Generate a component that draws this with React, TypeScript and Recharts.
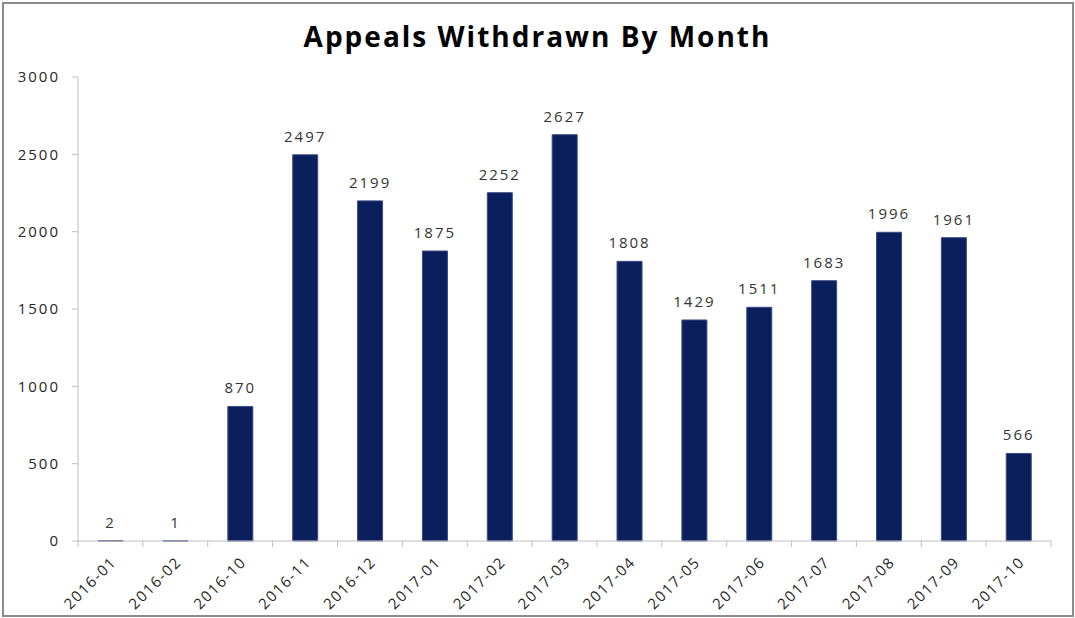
import React from "react";
import { BarChart, Bar, XAxis, YAxis, LabelList } from "recharts";

const months = ["2016-01","2016-02","2016-10","2016-11","2016-12","2017-01","2017-02","2017-03","2017-04","2017-05","2017-06","2017-07","2017-08","2017-09","2017-10"];
const withdrawn = [2,1,870,2497,2199,1875,2252,2627,1808,1429,1511,1683,1996,1961,566];
const yTicks = [0,500,1000,1500,2000,2500,3000];

const data = months.map((m, i) => ({ month: m, value: withdrawn[i] }));

const FONT = "'Open Sans', 'Liberation Sans', sans-serif";

const XTick = (props: any) => {
  const { x, y, payload, index, visibleTicksCount } = props;
  const off = payload.offset || 0;
  const isLast = index === visibleTicksCount - 1;
  const tx = x + 7;
  const ty = y + 14;
  return (
    <g>
      <line x1={x - off} x2={x - off} y1={y - 8} y2={y - 2} stroke="#bfbfbf" />
      {isLast && <line x1={x + off} x2={x + off} y1={y - 8} y2={y - 2} stroke="#bfbfbf" />}
      <text
        x={tx}
        y={ty}
        textAnchor="end"
        transform={`rotate(-45 ${tx} ${ty})`}
        fontSize={15}
        letterSpacing={1.5}
        fill="#262626"
        fontFamily={FONT}
      >
        {payload.value}
      </text>
    </g>
  );
};

export default function App() {
  return (
    <div style={{ position: "absolute", left: 0, top: 0, width: 1075, height: 618, background: "#fff" }}>
      <BarChart
        width={1075}
        height={618}
        data={data}
        margin={{ top: 77, right: 24, bottom: 7, left: 18 }}
        barCategoryGap="31%"
      >
        <XAxis
          dataKey="month"
          tick={<XTick />}
          tickLine={false}
          axisLine={{ stroke: "#bfbfbf" }}
          height={70}
          interval={0}
        />
        <YAxis
          domain={[0, 3000]}
          ticks={yTicks}
          width={60}
          axisLine={{ stroke: "#bfbfbf" }}
          tickLine={{ stroke: "#bfbfbf" }}
          tickSize={6}
          tickMargin={12}
          tick={{ fontSize: 15, fill: "#262626", fontFamily: FONT, letterSpacing: 2 }}
        />
        <Bar dataKey="value" fill="#0a1f5c" stroke="#3a4c85" strokeWidth={1} isAnimationActive={false}>
          <LabelList
            dataKey="value"
            position="top"
            offset={13}
            style={{ fontSize: 15, fill: "#333", fontFamily: FONT, letterSpacing: 2 }}
          />
        </Bar>
      </BarChart>
      <div
        style={{
          position: "absolute",
          left: 0,
          top: 17,
          width: 1075,
          textAlign: "center",
          fontFamily: FONT,
          fontWeight: 700,
          fontSize: 28,
          letterSpacing: 2,
          color: "#000",
        }}
      >
        Appeals Withdrawn By Month
      </div>
      <div
        style={{
          position: "absolute",
          left: 2,
          top: 2,
          width: 1068,
          height: 611,
          border: "2px solid #8c8c8c",
          pointerEvents: "none",
        }}
      />
    </div>
  );
}
